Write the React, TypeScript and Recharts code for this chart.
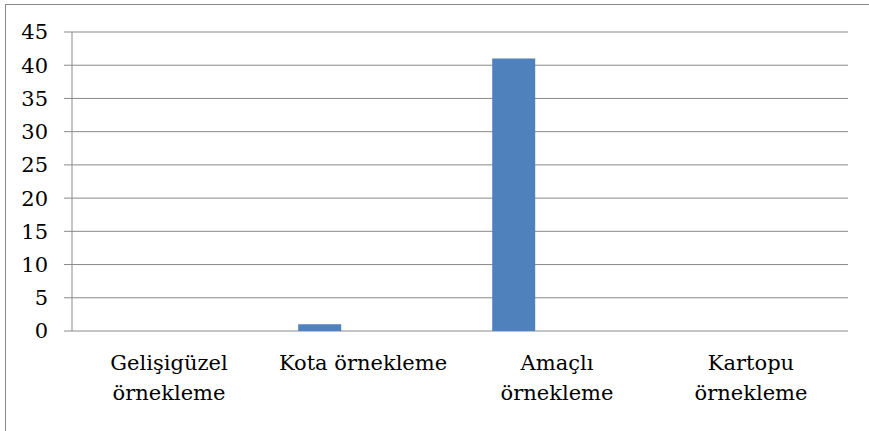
import React from 'react';
import { BarChart, Bar, XAxis, YAxis, CartesianGrid } from 'recharts';

const categories = ['Gelişigüzel örnekleme', 'Kota örnekleme', 'Amaçlı örnekleme', 'Kartopu örnekleme'];
const seriesA = [0, 1, 41, 0];
// the other two series in the source sheet are empty, they only take up slots
const seriesB = [null, null, null, null];
const seriesC = [null, null, null, null];
const yTicks = [0, 5, 10, 15, 20, 25, 30, 35, 40, 45];
const boundaryTicks = [0, 1, 2, 3, 4];

const chartData = categories.map((name, i) => ({
  name,
  a: seriesA[i],
  b: seriesB[i],
  c: seriesC[i],
}));

// only serif face that resolves in the sandbox
const FONT = 'DejaVu Serif';
const GRAY = '#898989';

// Excel wraps the longer labels onto two lines
const CategoryTick = ({ x, y, payload }: { x?: number; y?: number; payload?: { value: string } }) => {
  const text = payload ? payload.value : '';
  const cut = text.indexOf(' ');
  const lines = text.length > 15 ? [text.slice(0, cut), text.slice(cut + 1)] : [text];
  return (
    <text x={x} y={y} textAnchor="middle" fontFamily={FONT} fontSize={21} fill="#000">
      {lines.map((line, i) => (
        <tspan key={i} x={x} dy={i === 0 ? 39 : 30}>
          {line}
        </tspan>
      ))}
    </text>
  );
};

export default function App() {
  return (
    <div
      style={{
        position: 'absolute',
        left: 0,
        top: 0,
        width: 869,
        height: 431,
        overflow: 'hidden',
        background: '#fff',
      }}
    >
      <div
        style={{
          position: 'absolute',
          left: 5,
          top: 4,
          width: 900,
          height: 500,
          border: `1px solid ${GRAY}`,
        }}
      />
      <div style={{ position: 'absolute', left: 0, top: 0 }}>
        <BarChart
          width={869}
          height={431}
          data={chartData}
          margin={{ top: 32, right: 21, bottom: 0, left: 0 }}
          barCategoryGap="16.6%"
          barGap={0}
        >
          <CartesianGrid vertical={false} stroke={GRAY} />
          <XAxis
            xAxisId="bounds"
            type="number"
            domain={[0, 4]}
            ticks={boundaryTicks}
            tick={false}
            tickSize={7}
            height={0}
            stroke={GRAY}
            allowDataOverflow
          />
          <XAxis
            dataKey="name"
            height={100}
            axisLine={false}
            tickLine={false}
            tickSize={0}
            tickMargin={0}
            interval={0}
            tick={<CategoryTick />}
          />
          <YAxis
            domain={[0, 45]}
            ticks={yTicks}
            interval={0}
            width={72}
            tickSize={8}
            tickMargin={16}
            stroke={GRAY}
            tick={{ fill: '#000', fontSize: 21, fontFamily: FONT }}
          />
          <Bar dataKey="a" fill="#4F81BD" isAnimationActive={false} />
          <Bar dataKey="b" fill="#C0504D" isAnimationActive={false} />
          <Bar dataKey="c" fill="#9BBB59" isAnimationActive={false} />
        </BarChart>
      </div>
    </div>
  );
}
